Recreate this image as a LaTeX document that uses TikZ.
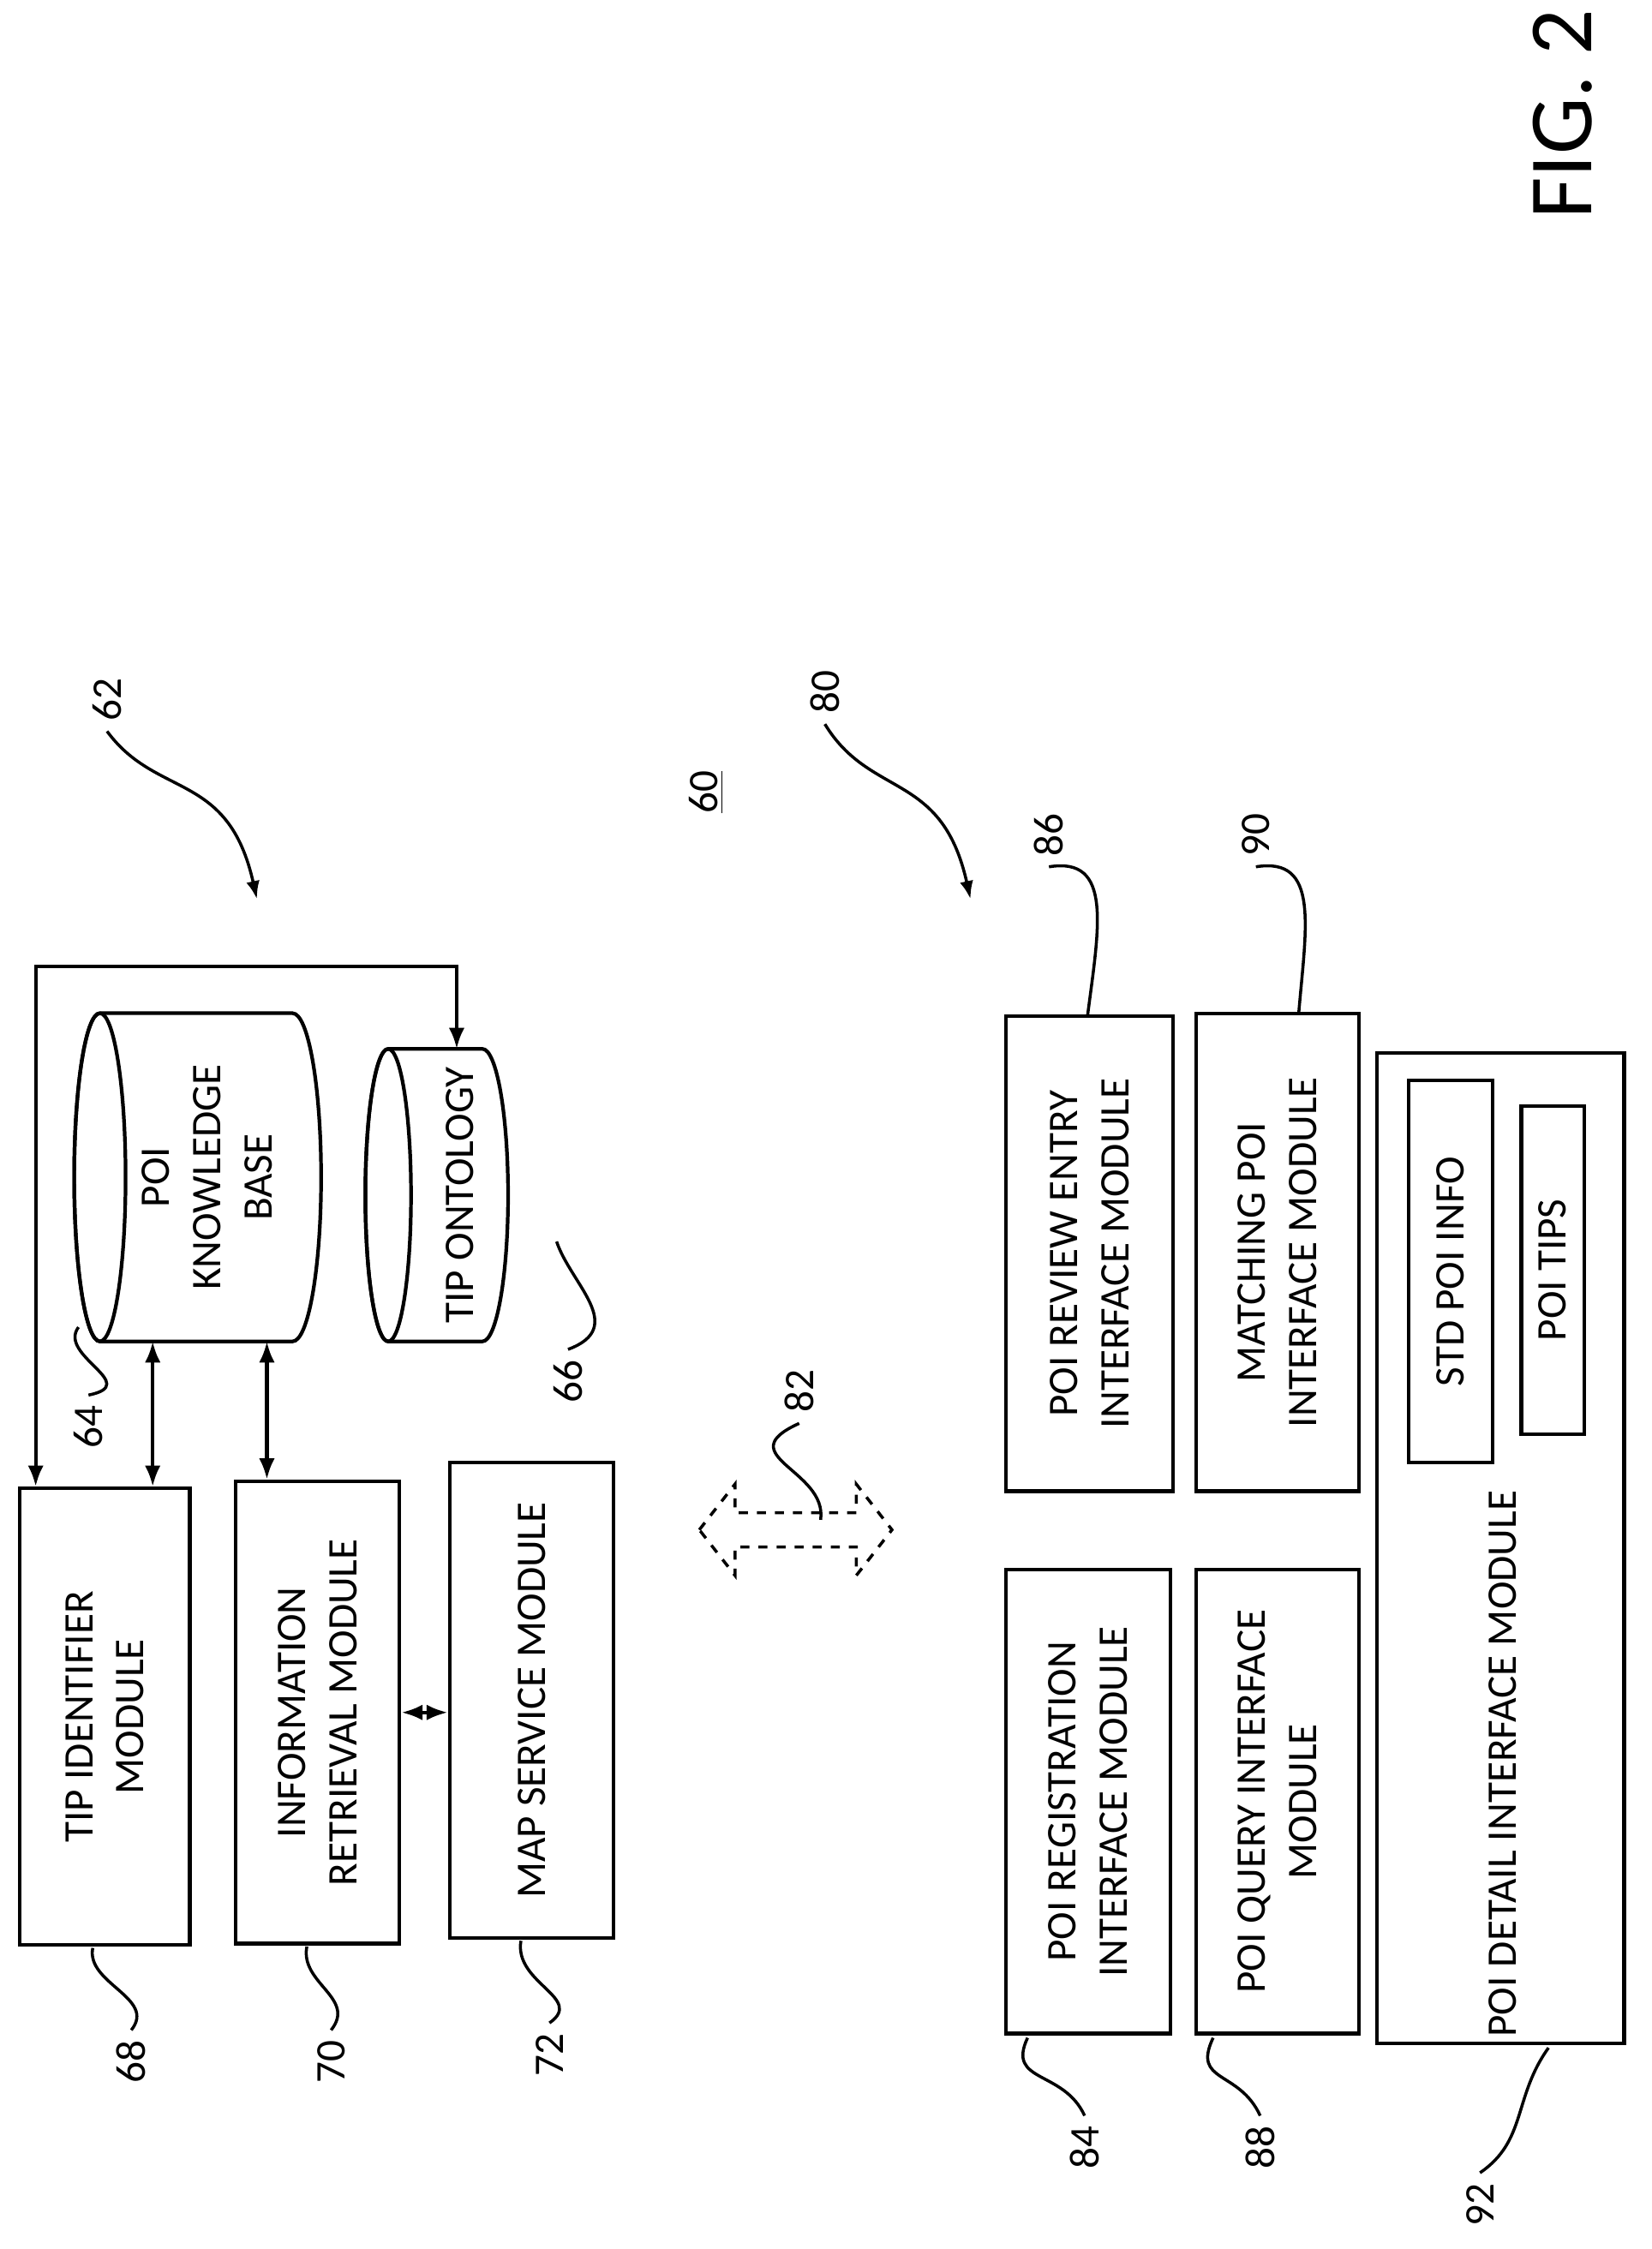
\documentclass[tikz,border=0pt]{standalone}
\usepackage{fontspec}
\setmainfont{Carlito}
\usetikzlibrary{fit,arrows.meta}
\tikzset{
  box/.style={draw, line width=1.2pt, inner sep=0pt},
  txt/.style={rotate=90, align=center, font=\fontsize{14}{17}\selectfont},
  ref/.style={rotate=90, font=\fontsize{14}{17}\selectfont},
  lead/.style={line width=1pt},
  link/.style={line width=1.2pt, {Latex[length=7pt]}-{Latex[length=7pt]}},
}
\begin{document}
\begin{tikzpicture}[x=0.01666cm, y=-0.01666cm]
  \useasboundingbox (0,0) rectangle (1157,1576);

  % left side modules
  \node[box, fit={(14,1043)(133,1363)}] (tipid) {};
  \node[txt] at (tipid.center) {TIP IDENTIFIER\\MODULE};
  \node[box, fit={(165,1038)(280,1362)}] (inforet) {};
  \node[txt] at (inforet.center) {INFORMATION\\RETRIEVAL MODULE};
  \node[box, fit={(315,1025)(430,1358)}] (mapsvc) {};
  \node[txt] at (mapsvc.center) {MAP SERVICE MODULE};

  % cylinders
  \draw[box] (70,710) -- (205,710) arc[x radius=20, y radius=115, start angle=-90, end angle=90]
    -- (70,940) arc[x radius=18, y radius=115, start angle=90, end angle=270];
  \draw[box] (70,825) ellipse[x radius=18, y radius=115];
  \coordinate (kb) at (145,825);
  \node[txt] at (kb) {POI\\KNOWLEDGE\\BASE};
  \draw[box] (272,735) -- (338,735) arc[x radius=18, y radius=102.5, start angle=-90, end angle=90]
    -- (272,940) arc[x radius=16, y radius=102.5, start angle=90, end angle=270];
  \draw[box] (272,837.5) ellipse[x radius=16, y radius=102.5];
  \coordinate (onto) at (322,837.5);
  \node[txt] at (onto) {TIP ONTOLOGY};

  % connectors
  \coordinate (kbl) at (107,940);
  \coordinate (kbr) at (187,940);
  \coordinate (ontotop) at (320,735);
  \draw[link] (kbl) -- (tipid.north -| kbl);
  \draw[link] (kbr) -- (inforet.north -| kbr);
  \draw[link] (inforet.east |- 0,1200) -- (mapsvc.west |- 0,1200);
  \draw[link] (tipid.north -| 25,0) -- (25,677) -- (320,677) -- (ontotop);

  % right side modules
  \node[box, fit={(705,712)(822,1045)}] (review) {};
  \node[txt] at (review.center) {POI REVIEW ENTRY\\INTERFACE MODULE};
  \node[box, fit={(838,710)(952,1045)}] (match) {};
  \node[txt] at (match.center) {MATCHING POI\\INTERFACE MODULE};
  \node[box, fit={(705,1100)(820,1425)}] (regist) {};
  \node[txt] at (regist.center) {POI REGISTRATION\\INTERFACE MODULE};
  \node[box, fit={(838,1100)(952,1425)}] (query) {};
  \node[txt] at (query.center) {POI QUERY INTERFACE\\MODULE};
  \node[box, fit={(965,738)(1138,1432)}] (detail) {};
  \node[txt] at (1053,1236) {POI DETAIL INTERFACE MODULE};
  \node[box, fit={(987,757)(1046,1025)}] (std) {};
  \node[txt] at (std.center) {STD POI INFO};
  \node[box, fit={(1066,775)(1110,1005)}] (tips) {};
  \node[txt] at (tips.center) {POI TIPS};

  % hollow dashed double arrow
  \draw[line width=1pt, dashed] (490,1072) -- (515,1040) -- (515,1060) -- (600,1060) -- (600,1040)
    -- (625,1072) -- (600,1104) -- (600,1084) -- (515,1084) -- (515,1104) -- cycle;

  % reference numerals and leaders
  \node[ref] (n62) at (75,490) {62};
  \draw[lead, -{Latex[length=6pt]}] (n62.west) .. controls (110,560) and (160,540) .. (180,630);
  \node[ref] (n80) at (578,485) {80};
  \draw[lead, -{Latex[length=6pt]}] (n80.west) .. controls (610,560) and (660,540) .. (680,630);
  \node[ref] (n64) at (62,1000) {64};
  \draw[lead] (n64.east) .. controls (100,970) and (40,950) .. (55,930);
  \node[ref] (n66) at (398,968) {66};
  \draw[lead] (n66.east) .. controls (440,930) and (400,900) .. (390,870);
  \node[ref] (n68) at (92,1445) {68};
  \draw[lead] (n68.east) .. controls (110,1400) and (60,1390) .. (65,1365);
  \node[ref] (n70) at (232,1445) {70};
  \draw[lead] (n70.east) .. controls (250,1400) and (210,1390) .. (215,1364);
  \node[ref] (n72) at (385,1440) {72};
  \draw[lead] (n72.east) .. controls (410,1400) and (360,1390) .. (365,1360);
  \node[ref] (n82) at (560,975) {82};
  \draw[lead] (n82.west) .. controls (510,1020) and (580,1030) .. (575,1065);
  \node[ref] (n86) at (735,585) {86};
  \draw[lead] (n86.west) .. controls (780,600) and (770,650) .. (762,712);
  \node[ref] (n90) at (880,585) {90};
  \draw[lead] (n90.west) .. controls (925,600) and (915,650) .. (910,710);
  \node[ref] (n84) at (760,1505) {84};
  \draw[lead] (n84.east) .. controls (745,1450) and (705,1460) .. (720,1428);
  \node[ref] (n88) at (883,1505) {88};
  \draw[lead] (n88.east) .. controls (868,1450) and (835,1460) .. (850,1428);
  \node[ref] (n92) at (1037,1545) {92};
  \draw[lead] (n92.east) .. controls (1070,1500) and (1060,1470) .. (1085,1435);
  \node[ref] (n60) at (495,555) {\underline{60}};

  \node[rotate=90, font=\fontsize{30}{34}\selectfont] (fig) at (1095,80) {FIG. 2};
\end{tikzpicture}
\end{document}
